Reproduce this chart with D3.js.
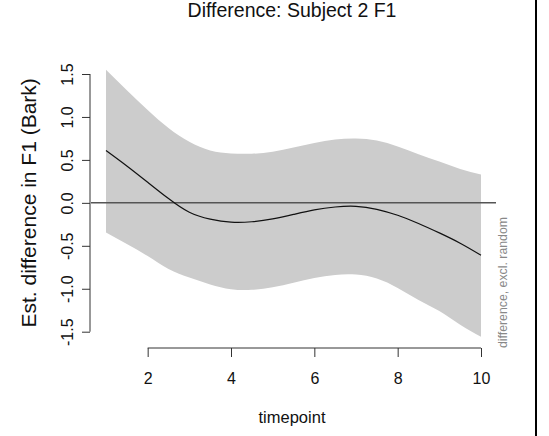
<!DOCTYPE html>
<html>
<head>
  <meta charset="utf-8">
  <script src="https://d3js.org/d3.v7.min.js"></script>
  <style>
    body { margin: 0; background: #fff; }
    svg text { font-family: "Liberation Sans", Arial, Helvetica, sans-serif; }
  </style>
</head>
<body>
  <div id="chart"></div>
  <script>

  var timepoints = [1, 1.5, 2, 2.5, 3, 3.5, 4, 4.5, 5, 5.5, 6, 6.5, 7, 7.5, 8, 8.5, 9, 9.5, 10]
  // estimated difference
  var fitValues = [0.61, 0.43, 0.24, 0.05, -0.11, -0.19, -0.225, -0.22, -0.187, -0.135,
                   -0.082, -0.048, -0.04, -0.075, -0.145, -0.24, -0.35, -0.47, -0.61]
  // confidence band
  var upperValues = [1.55, 1.31, 1.08, 0.87, 0.71, 0.61, 0.575, 0.572, 0.594, 0.643,
                     0.698, 0.738, 0.75, 0.725, 0.655, 0.565, 0.48, 0.395, 0.33]
  var lowerValues = [-0.345, -0.48, -0.62, -0.77, -0.87, -0.95, -1.005, -1.012, -0.982, -0.93,
                     -0.875, -0.839, -0.835, -0.88, -0.99, -1.13, -1.26, -1.42, -1.56]

  var xTicks = [2, 4, 6, 8, 10]
  var yTicks = [-1.5, -1.0, -0.5, 0.0, 0.5, 1.0, 1.5]

  var titleText = "Difference: Subject 2 F1"
  var xLabel = "timepoint"
  var yLabel = "Est. difference in F1 (Bark)"
  var sideLabel = "difference, excl. random"

  var width = 549, height = 436

  var svg = d3.select("#chart")
    .append("svg")
    .attr("width", width)
    .attr("height", height)

  // scales (R style: 4% padding around the data range)
  var x = d3.scaleLinear()
    .domain([0.64, 10.36])
    .range([91, 496])

  var y = d3.scaleLinear()
    .domain([-1.5, 1.5])
    .range([331.7, 74])

  var rows = timepoints.map(function(t, i) {
    return {t: t, fit: fitValues[i], lo: lowerValues[i], hi: upperValues[i]}
  })

  // confidence band
  var area = d3.area()
    .x(function(d) { return x(d.t) })
    .y0(function(d) { return y(d.lo) })
    .y1(function(d) { return y(d.hi) })
    .curve(d3.curveNatural)

  svg.append("path")
    .datum(rows)
    .attr("d", area)
    .attr("fill", "#cccccc")

  // zero line
  svg.append("line")
    .attr("x1", x.range()[0]).attr("x2", x.range()[1])
    .attr("y1", y(0)).attr("y2", y(0))
    .attr("stroke", "#555")
    .attr("stroke-width", 1.5)

  // fitted difference
  var line = d3.line()
    .x(function(d) { return x(d.t) })
    .y(function(d) { return y(d.fit) })
    .curve(d3.curveNatural)

  svg.append("path")
    .datum(rows)
    .attr("d", line)
    .attr("fill", "none")
    .attr("stroke", "#111")
    .attr("stroke-width", 1.2)

  // x axis
  var xAxisY = 348
  var gx = svg.append("g")
    .attr("transform", "translate(0," + xAxisY + ")")
    .call(d3.axisBottom(x).tickValues(xTicks).tickSize(9).tickFormat(d3.format("d")))
  gx.select(".domain").remove()
  gx.append("line")
    .attr("x1", x(xTicks[0])).attr("x2", x(xTicks[xTicks.length - 1]))
    .attr("stroke", "#333")
  gx.selectAll(".tick line").attr("stroke", "#333")
  gx.selectAll(".tick text")
    .attr("y", 36).attr("dy", null)
    .attr("font-size", 16)
    .attr("fill", "#111")

  // y axis
  var yAxisX = 90
  var gy = svg.append("g")
    .attr("transform", "translate(" + yAxisX + ",0)")
    .call(d3.axisLeft(y).tickValues(yTicks).tickSize(8).tickFormat(d3.format(".1f")))
  gy.select(".domain").remove()
  gy.append("line")
    .attr("y1", y(yTicks[0])).attr("y2", y(yTicks[yTicks.length - 1]))
    .attr("stroke", "#333")
  gy.selectAll(".tick line").attr("stroke", "#333")
  gy.selectAll(".tick text")
    .attr("transform", "rotate(-90)")
    .attr("x", 0).attr("y", -17).attr("dy", null)
    .attr("text-anchor", "middle")
    .attr("font-size", 16)
    .attr("fill", "#111")
    .text(function(d) { return d3.format(".1f")(d).replace("−", "-") })

  // title
  svg.append("text")
    .attr("x", 292).attr("y", 17)
    .attr("text-anchor", "middle")
    .attr("font-size", 19.5)
    .attr("fill", "#111")
    .text(titleText)

  // axis labels
  svg.append("text")
    .attr("x", 292).attr("y", 423)
    .attr("text-anchor", "middle")
    .attr("font-size", 16.5)
    .attr("fill", "#111")
    .text(xLabel)

  svg.append("text")
    .attr("transform", "translate(36," + y(0) + ") rotate(-90)")
    .attr("text-anchor", "middle")
    .attr("font-size", 21)
    .attr("fill", "#111")
    .text(yLabel)

  svg.append("text")
    .attr("transform", "translate(507,348) rotate(-90)")
    .attr("text-anchor", "start")
    .attr("font-size", 12.3)
    .attr("fill", "#888")
    .text(sideLabel)

  // frame edge on the right
  svg.append("line")
    .attr("x1", 536).attr("x2", 536)
    .attr("y1", 0).attr("y2", height)
    .attr("stroke", "#000")
    .attr("stroke-width", 2)

  </script>
</body>
</html>
